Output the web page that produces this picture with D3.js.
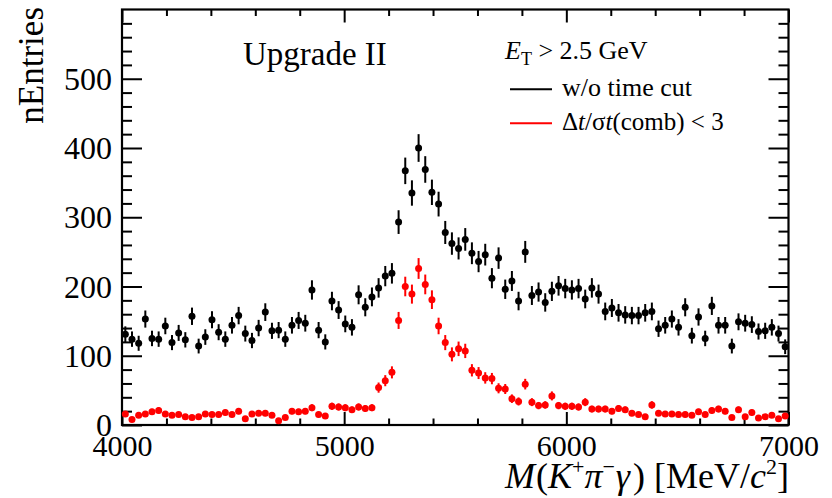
<!DOCTYPE html>
<html>
<head>
<meta charset="utf-8">
<script src="https://cdn.jsdelivr.net/npm/d3@7"></script>
<style>
  body { margin: 0; background: #fff; }
  text { font-family: "Liberation Serif", "Times New Roman", serif; fill: #000; }
</style>
</head>
<body>
<script>
// bins of 30 MeV between 4000 and 7000
var binEdges = [4000, 7000];
var binWidth = 30;

// w/o time cut (black)
var allCounts = [
  131, 124, 118, 153, 125, 124, 143, 119, 133, 123,
  157, 114, 127, 152, 134, 124, 144, 158, 132, 122,
  140, 163, 136, 137, 124, 144, 151, 147, 195, 137,
  120, 179, 166, 146, 141, 188, 170, 185, 198, 215,
  219, 293, 367, 335, 400, 369, 336, 319, 278, 262,
  255, 268, 248, 236, 246, 212, 241, 196, 208, 179,
  250, 187, 192, 177, 193, 201, 197, 195, 197, 182,
  198, 189, 164, 169, 162, 159, 158, 158, 162, 164,
  139, 144, 153, 141, 170, 129, 156, 125, 172, 144,
  144, 114, 149, 147, 145, 135, 136, 141, 132, 113
];

// dt/sigma_t(comb) < 3 (red)
var cutCounts = [
  16, 8, 14, 16, 19, 21, 16, 14, 15, 12,
  11, 12, 16, 15, 15, 18, 15, 20, 9, 16,
  17, 17, 14, 6, 11, 20, 19, 20, 25, 15,
  13, 27, 26, 25, 22, 26, 24, 25, 54, 64,
  76, 151, 200, 189, 226, 203, 181, 143, 119, 102,
  110, 107, 79, 75, 68, 67, 53, 52, 38, 34,
  59, 33, 28, 29, 42, 28, 27, 27, 26, 33,
  23, 23, 23, 20, 24, 22, 17, 15, 12, 29,
  17, 16, 16, 15, 15, 14, 19, 15, 21, 23,
  20, 11, 22, 12, 18, 10, 12, 14, 9, 13
];

var xTicks = [4000, 5000, 6000, 7000];
var yTicks = [0, 100, 200, 300, 400, 500];

var W = 832, H = 498;
var pLeft = 122, pRight = 788.5, pTop = 9.5, pBottom = 425;

var svg = d3.select("body").append("svg")
    .attr("width", W)
    .attr("height", H);

var x = d3.scaleLinear().domain(binEdges).range([pLeft, pRight]);
var y = d3.scaleLinear().domain([0, 600]).range([pBottom, pTop]);

var centers = d3.range(binEdges[0] + binWidth / 2, binEdges[1], binWidth);

/*
  axes, ROOT style: ticks inside on all four sides
*/
var xMinor = d3.range(4200, 7000, 200).filter(function (v) { return v % 1000 !== 0; });
var yMinor = d3.range(20, 600, 20).filter(function (v) { return v % 100 !== 0; });

function thick(g) {
  g.select(".domain").remove();
  g.selectAll("line").attr("stroke-width", 2);
}

var ax = svg.append("g").attr("class", "axes");

// bottom
ax.append("g")
    .attr("transform", "translate(0," + pBottom + ")")
    .call(d3.axisBottom(x).tickValues(xTicks).tickSize(-13).tickPadding(0).tickFormat(d3.format("d")))
    .call(thick)
    .call(function (g) {
      g.selectAll("text").attr("font-size", 30).attr("dy", 0).attr("y", 30.5);
    });
ax.append("g")
    .attr("transform", "translate(0," + pBottom + ")")
    .call(d3.axisBottom(x).tickValues(xMinor).tickSize(-6.5).tickFormat(""))
    .call(thick);
// top
ax.append("g")
    .attr("transform", "translate(0," + pTop + ")")
    .call(d3.axisTop(x).tickValues(xTicks).tickSize(-13).tickFormat(""))
    .call(thick);
ax.append("g")
    .attr("transform", "translate(0," + pTop + ")")
    .call(d3.axisTop(x).tickValues(xMinor).tickSize(-6.5).tickFormat(""))
    .call(thick);
// left
ax.append("g")
    .attr("transform", "translate(" + pLeft + ",0)")
    .call(d3.axisLeft(y).tickValues(yTicks).tickSize(-20).tickPadding(10))
    .call(thick)
    .call(function (g) {
      g.selectAll("text").attr("font-size", 32).attr("dy", "0.33em");
    });
ax.append("g")
    .attr("transform", "translate(" + pLeft + ",0)")
    .call(d3.axisLeft(y).tickValues(yMinor).tickSize(-10).tickFormat(""))
    .call(thick);
// right
ax.append("g")
    .attr("transform", "translate(" + pRight + ",0)")
    .call(d3.axisRight(y).tickValues(yTicks).tickSize(-20).tickFormat(""))
    .call(thick);
ax.append("g")
    .attr("transform", "translate(" + pRight + ",0)")
    .call(d3.axisRight(y).tickValues(yMinor).tickSize(-10).tickFormat(""))
    .call(thick);

svg.append("rect")
    .attr("x", pLeft).attr("y", pTop)
    .attr("width", pRight - pLeft).attr("height", pBottom - pTop)
    .attr("fill", "none").attr("stroke", "#000").attr("stroke-width", 2.2);

/*
  data points with sqrt(N) error bars
*/
function drawSeries(counts, color) {
  var pts = counts.map(function (c, i) { return { m: centers[i], n: c }; });
  var g = svg.append("g");
  g.selectAll("line.err")
    .data(pts)
    .enter().append("line")
      .attr("class", "err")
      .attr("x1", function (d) { return x(d.m); })
      .attr("x2", function (d) { return x(d.m); })
      .attr("y1", function (d) { return y(d.n - Math.sqrt(d.n)); })
      .attr("y2", function (d) { return y(d.n + Math.sqrt(d.n)); })
      .attr("stroke", color)
      .attr("stroke-width", 2);
  g.selectAll("circle")
    .data(pts)
    .enter().append("circle")
      .attr("cx", function (d) { return x(d.m); })
      .attr("cy", function (d) { return y(d.n); })
      .attr("r", 3.5)
      .attr("fill", color);
}
drawSeries(allCounts, "#000");
drawSeries(cutCounts, "#ff0000");

/*
  labels
*/
svg.append("text")
    .attr("transform", "translate(43,7) rotate(-90)")
    .attr("text-anchor", "end")
    .attr("font-size", 35)
    .text("nEntries");

var xt = svg.append("text")
    .attr("x", 789).attr("y", 488)
    .attr("text-anchor", "end")
    .attr("font-size", 36);
xt.append("tspan").attr("font-style", "italic").text("M");
xt.append("tspan").attr("dx", 1).text("(");
xt.append("tspan").attr("font-style", "italic").text("K");
xt.append("tspan").attr("font-size", 22).attr("dy", -14).text("+");
xt.append("tspan").attr("font-style", "italic").attr("dy", 14).text("\u03c0");
xt.append("tspan").attr("font-size", 22).attr("dy", -14).text("\u2212");
xt.append("tspan").attr("font-style", "italic").attr("dy", 14).attr("dx", 1).text("\u03b3");
xt.append("tspan").attr("dx", 3).text(") [MeV/");
xt.append("tspan").attr("font-style", "italic").text("c");
xt.append("tspan").attr("font-size", 22).attr("dy", -14).text("2");
xt.append("tspan").attr("dy", 14).text("]");

svg.append("text")
    .attr("x", 243).attr("y", 65)
    .attr("font-size", 33)
    .text("Upgrade II");

var lg = svg.append("text")
    .attr("x", 505).attr("y", 59)
    .attr("font-size", 26);
lg.append("tspan").attr("font-style", "italic").text("E");
lg.append("tspan").attr("font-size", 18).attr("dy", 6).text("T");
lg.append("tspan").attr("dy", -6).text(" > 2.5 GeV");

var legendItems = [
  { color: "#000", ly: 89.3 },
  { color: "#ff0000", ly: 123.3 }
];
legendItems.forEach(function (d) {
  svg.append("line")
    .attr("x1", 510).attr("x2", 552)
    .attr("y1", d.ly).attr("y2", d.ly)
    .attr("stroke", d.color).attr("stroke-width", 2);
});
svg.append("text")
    .attr("x", 562).attr("y", 96)
    .attr("font-size", 26)
    .text("w/o time cut");
var l2 = svg.append("text")
    .attr("x", 562).attr("y", 130)
    .attr("font-size", 25);
l2.append("tspan").text("\u0394");
l2.append("tspan").attr("font-style", "italic").text("t");
l2.append("tspan").text("/\u03c3");
l2.append("tspan").attr("font-style", "italic").text("t");
l2.append("tspan").text("(comb) < 3");
</script>
</body>
</html>
